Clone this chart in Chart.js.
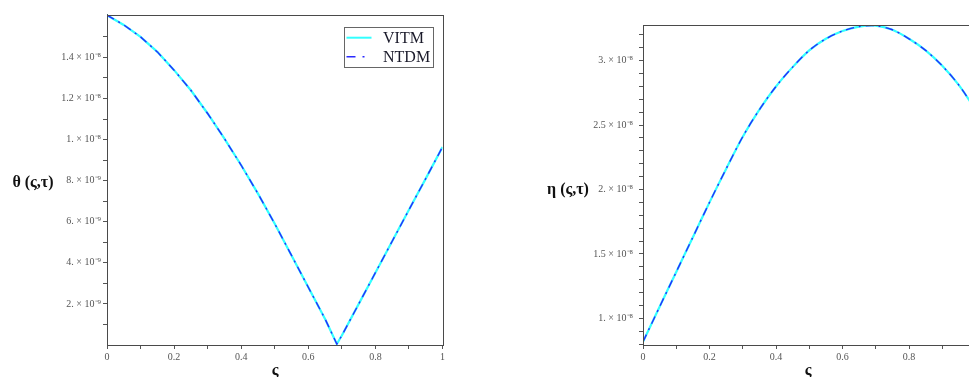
<!DOCTYPE html>
<html><head><meta charset="utf-8">
<script src="https://cdn.jsdelivr.net/npm/chart.js@4"></script>
<style>
html,body{margin:0;padding:0;background:#fff;width:969px;height:377px;overflow:hidden;position:relative}
canvas{position:absolute;top:0}
.t{position:absolute;font:bold 16px 'Liberation Serif','Times New Roman',serif;color:#111;white-space:nowrap;transform:translate(-50%,-50%)}
</style></head><body>
<canvas id="c1" width="460" height="377" style="left:0"></canvas>
<canvas id="c2" width="450" height="377" style="left:540px"></canvas>
<div class="t" style="left:33px;top:182px">θ (ς,τ)</div>
<div class="t" style="left:568px;top:189px">η (ς,τ)</div>
<div class="t" style="left:275px;top:370px">ς</div>
<div class="t" style="left:808px;top:370px">ς</div>
<script>
// ---- data ----
const xTheta = [0,0.05,0.1,0.15,0.2,0.25,0.3,0.35,0.4,0.45,0.5,0.55,0.6,0.65,0.685,0.7,0.75,0.8,0.85,0.9,0.95,1];
const thetaVITM = [1.606e-8,1.558e-8,1.500e-8,1.427e-8,1.338e-8,1.240e-8,1.127e-8,1.005e-8,8.75e-9,7.37e-9,5.90e-9,4.36e-9,2.81e-9,1.27e-9,0.05e-9,0.46e-9,1.99e-9,3.52e-9,5.05e-9,6.58e-9,8.10e-9,9.64e-9];
const thetaNTDM = [1.606e-8,1.558e-8,1.500e-8,1.427e-8,1.338e-8,1.240e-8,1.127e-8,1.005e-8,8.75e-9,7.37e-9,5.90e-9,4.36e-9,2.81e-9,1.27e-9,0.05e-9,0.46e-9,1.99e-9,3.52e-9,5.05e-9,6.58e-9,8.10e-9,9.64e-9];
const xEta = [0,0.05,0.1,0.15,0.2,0.25,0.3,0.35,0.4,0.45,0.5,0.55,0.6,0.65,0.7,0.75,0.8,0.85,0.9,0.95,1];
const etaVITM = [8.18e-9,10.9e-9,13.6e-9,16.3e-9,19.0e-9,21.6e-9,24.1e-9,26.2e-9,28.0e-9,29.5e-9,30.8e-9,31.7e-9,32.3e-9,32.65e-9,32.72e-9,32.4e-9,31.7e-9,30.8e-9,29.6e-9,28.1e-9,26.2e-9];
const etaNTDM = [8.18e-9,10.9e-9,13.6e-9,16.3e-9,19.0e-9,21.6e-9,24.1e-9,26.2e-9,28.0e-9,29.5e-9,30.8e-9,31.7e-9,32.3e-9,32.65e-9,32.72e-9,32.4e-9,31.7e-9,30.8e-9,29.6e-9,28.1e-9,26.2e-9];
const xTicks = [0,0.1,0.2,0.3,0.4,0.5,0.6,0.7,0.8,0.9,1];
const xTickLabels = ['0','','0.2','','0.4','','0.6','','0.8','','1'];
const thetaTicks = [1e-9,2e-9,3e-9,4e-9,5e-9,6e-9,7e-9,8e-9,9e-9,10e-9,11e-9,12e-9,13e-9,14e-9,15e-9];
const thetaTickLabels = ['','2. × 10⁻⁹','','4. × 10⁻⁹','','6. × 10⁻⁹','','8. × 10⁻⁹','','1. × 10⁻⁸','','1.2 × 10⁻⁸','','1.4 × 10⁻⁸',''];
const etaTicks = [8e-9,9e-9,10e-9,11e-9,12e-9,13e-9,14e-9,15e-9,16e-9,17e-9,18e-9,19e-9,20e-9,21e-9,22e-9,23e-9,24e-9,25e-9,26e-9,27e-9,28e-9,29e-9,30e-9,31e-9,32e-9];
const etaTickLabels = ['','','1. × 10⁻⁸','','','','','1.5 × 10⁻⁸','','','','','2. × 10⁻⁸','','','','','2.5 × 10⁻⁸','','','','','3. × 10⁻⁸','',''];
const legendLabels = ['VITM','NTDM'];

const tickFont = {family:"'Liberation Serif','Times New Roman',serif", size:10};
const CYAN = '#33ffff', BLUE = '#2a2aff';

const boxPlugin = {
  id:'boxPlugin',
  afterDraw(chart, args, opts){
    const ctx = chart.ctx, a = chart.chartArea;
    ctx.save();
    ctx.strokeStyle = '#4a4a4a'; ctx.lineWidth = 1;
    ctx.strokeRect(Math.round(a.left)+0.5, Math.round(a.top)+0.5, Math.round(a.right-a.left), Math.round(a.bottom-a.top));
    const L = opts.legend;
    if (L){
      ctx.fillStyle='#fff'; ctx.fillRect(L.x, L.y, L.w, L.h);
      ctx.strokeStyle='#666'; ctx.lineWidth=1;
      ctx.strokeRect(L.x+0.5, L.y+0.5, L.w, L.h);
      ctx.font = "16px 'Liberation Serif','Times New Roman',serif";
      ctx.textBaseline='middle'; ctx.fillStyle='#1a1a2a';
      const styles = [{c:CYAN,w:2,d:[]},{c:BLUE,w:1.6,d:[9,7,2,7]}];
      legendLabels.forEach((lab,i)=>{
        const yy = L.y + L.r[i];
        ctx.beginPath(); ctx.strokeStyle=styles[i].c; ctx.lineWidth=styles[i].w; ctx.setLineDash(styles[i].d);
        ctx.moveTo(L.x+2.5, yy); ctx.lineTo(L.x+27.5, yy); ctx.stroke();
        ctx.setLineDash([]);
        ctx.fillText(lab, L.x+39, yy+1.5);
      });
    }
    ctx.restore();
  }
};

function makeChart(id, xs, v1, v2, yMin, yMax, yTicks, yTickLabels, yWidth, xMax, pad, yPad, legend, tension){
  return new Chart(document.getElementById(id), {
    type:'line',
    data:{datasets:[
      {label:legendLabels[0], data:xs.map((x,i)=>({x, y:v1[i]})), borderColor:CYAN, borderWidth:2.2, pointRadius:0, tension:tension, order:2},
      {label:legendLabels[1], data:xs.map((x,i)=>({x, y:v2[i]})), borderColor:BLUE, borderWidth:1.4, borderDash:[8,5,2,5], pointRadius:0, tension:tension, order:1}
    ]},
    options:{
      responsive:false, animation:false, devicePixelRatio:1,
      layout:{padding:pad},
      plugins:{legend:{display:false}, tooltip:{enabled:false}, boxPlugin:{legend}},
      scales:{
        x:{type:'linear', min:0, max:xMax,
           afterBuildTicks:s=>{s.ticks = xTicks.map(v=>({value:v}));},
           afterFit:s=>{s.height=32;},
           ticks:{callback:(v,i)=>xTickLabels[i], font:tickFont, color:'#555', padding:2, maxRotation:0, autoSkip:false},
           grid:{drawOnChartArea:false, drawTicks:true, tickLength:4, tickColor:'#555'},
           border:{color:'#4a4a4a', width:1}},
        y:{type:'linear', min:yMin, max:yMax,
           afterBuildTicks:s=>{s.ticks = yTicks.map(v=>({value:v}));},
           afterFit:s=>{s.width=yWidth;},
           ticks:{callback:(v,i)=>yTickLabels[i], font:tickFont, color:'#555', padding:yPad, autoSkip:false},
           grid:{drawOnChartArea:false, drawTicks:true, tickLength:4, tickColor:'#555'},
           border:{color:'#4a4a4a', width:1}}
      }
    },
    plugins:[boxPlugin]
  });
}

makeChart('c1', xTheta, thetaVITM, thetaNTDM, 0, 1.608e-8, thetaTicks, thetaTickLabels, 107, 1,
  {top:14.7, right:17.5, left:0, bottom:0}, 2,
  {x:344, y:27, w:89, h:40, r:[10.7,29.7]}, 0);
makeChart('c2', xEta, etaVITM, etaNTDM, 7.93e-9, 3.277e-8, etaTicks, etaTickLabels, 103, 1,
  {top:25, right:14.5, left:0, bottom:0}, 6,
  {x:875, y:280, w:89, h:41, r:[11,30.5]}, 0.3);
</script>
</body></html>
